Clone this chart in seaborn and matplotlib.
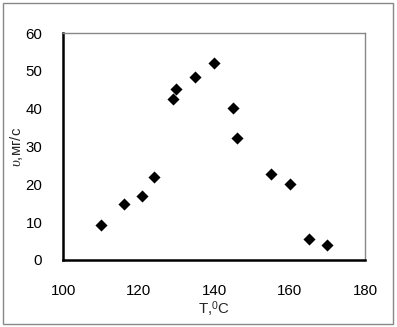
import pandas as pd
import matplotlib.pyplot as plt
import seaborn as sns
from matplotlib.patches import Rectangle

# Data
temperature = [110, 116, 121, 124, 129, 130, 135, 140, 145, 146, 155, 160, 165, 170]
rate = [9.3, 14.8, 17.0, 22.0, 42.5, 45.3, 48.5, 52.0, 40.2, 32.3, 22.7, 20.2, 5.5, 4.0]
x_ticks = [100, 120, 140, 160, 180]
y_ticks = [0, 10, 20, 30, 40, 50, 60]


def main():
    df = pd.DataFrame({'T': temperature, 'v': rate})

    sns.set_style('white')
    plt.rcParams['font.family'] = ['Liberation Sans', 'DejaVu Sans']
    plt.rcParams['mathtext.fontset'] = 'custom'
    plt.rcParams['mathtext.rm'] = 'Liberation Sans'
    plt.rcParams['mathtext.it'] = 'Liberation Serif:italic'

    fig = plt.figure(figsize=(3.97, 3.27), dpi=100)
    ax = fig.add_axes([0.159, 0.205, 0.761, 0.694])

    sns.scatterplot(data=df, x='T', y='v', marker='D', s=38, color='black',
                    edgecolor='black', linewidth=0, ax=ax)

    ax.set_xlim(100, 180)
    ax.set_ylim(0, 60)
    ax.set_xticks(x_ticks)
    ax.set_yticks(y_ticks)
    ax.tick_params(axis='both', direction='out', length=4, width=1,
                   labelsize=10.8, colors='black')
    ax.tick_params(axis='y', pad=11)
    ax.tick_params(axis='x', pad=13)

    for side in ['left', 'bottom']:
        ax.spines[side].set_color('black')
        ax.spines[side].set_linewidth(1.8)
    for side in ['top', 'right']:
        ax.spines[side].set_color('#888888')
        ax.spines[side].set_linewidth(1.0)

    ax.set_xlabel('T,$^{0}$C', fontsize=10.8, labelpad=1)
    ax.set_ylabel(r'$\upsilon$,мг/с', fontsize=10.8, labelpad=0)

    # outer chart frame
    fig.patches.append(Rectangle((0.008, 0.01), 0.982, 0.98, transform=fig.transFigure,
                                 fill=False, edgecolor='#888888', linewidth=1.0))

    fig.savefig('out.png', dpi=100)


if __name__ == "__main__":
    main()
